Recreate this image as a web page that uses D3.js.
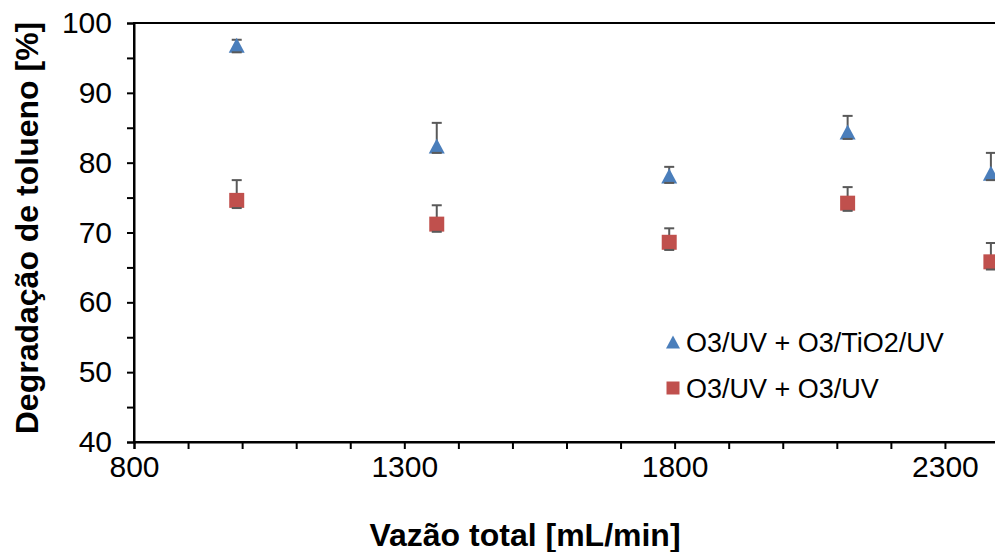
<!DOCTYPE html>
<html>
<head>
<meta charset="utf-8">
<script src="https://cdn.jsdelivr.net/npm/d3@7"></script>
<style>
  html, body { margin: 0; padding: 0; background: #fff; overflow: hidden; }
  svg { display: block; font-family: "Liberation Sans", Arial, sans-serif; }
</style>
</head>
<body>
<svg id="chart" width="995" height="552"></svg>
<script>
// Total flow rate (mL/min) for each run
const flowRates = [990, 1360, 1790, 2120, 2385];

// Toluene degradation (%) and error bar extents for each treatment
const seriesNames = ["O3/UV + O3/TiO2/UV", "O3/UV + O3/UV"];
const tio2Values = [96.8, 82.4, 78.1, 84.4, 78.5];
const tio2ErrUp = [0.8, 3.3, 1.3, 2.3, 2.9];
const tio2ErrDown = [1.0, 1.0, 1.0, 1.0, 1.0];
const uvValues = [74.6, 71.2, 68.6, 74.2, 65.8];
const uvErrUp = [2.9, 2.7, 2.0, 2.3, 2.7];
const uvErrDown = [1.1, 1.1, 1.1, 1.1, 1.1];

// Axis ticks
const xTickValues = [800, 1300, 1800, 2300];
const yTickValues = [40, 50, 60, 70, 80, 90, 100];

const svg = d3.select("#chart");
const plotLeft = 134, plotRight = 999, plotTop = 23, plotBottom = 442;

const x = d3.scaleLinear().domain([800, 2400]).range([plotLeft, plotRight]);
const y = d3.scaleLinear().domain([40, 100]).range([plotBottom, plotTop]);

// Plot frame
svg.append("rect")
  .attr("x", plotLeft).attr("y", plotTop)
  .attr("width", plotRight - plotLeft).attr("height", plotBottom - plotTop)
  .attr("fill", "none").attr("stroke", "#000").attr("stroke-width", 2);

// Y axis: ticks every 5, labels every 10
const yAxis = d3.axisLeft(y)
  .tickValues(d3.range(40, 101, 5))
  .tickSize(7)
  .tickPadding(15)
  .tickFormat(d => yTickValues.includes(d) ? d : "");
const gy = svg.append("g").attr("transform", `translate(${plotLeft},0)`).call(yAxis);

// X axis: ticks every 100, labels every 500
const xAxis = d3.axisBottom(x)
  .tickValues(d3.range(800, 2401, 100))
  .tickSize(7)
  .tickPadding(7)
  .tickFormat(d => xTickValues.includes(d) ? d : "");
const gx = svg.append("g").attr("transform", `translate(0,${plotBottom})`).call(xAxis);

[gx, gy].forEach(g => {
  g.select(".domain").attr("stroke", "#000").attr("stroke-width", 2);
  g.selectAll(".tick line").attr("stroke", "#000").attr("stroke-width", 2);
  g.selectAll(".tick text")
    .attr("fill", "#000")
    .style("font-size", "30px")
    .style("font-family", "'Liberation Sans', Arial, sans-serif");
});

// Axis titles
svg.append("text")
  .attr("x", 525).attr("y", 546)
  .attr("text-anchor", "middle")
  .style("font-size", "32px").style("font-weight", "bold")
  .text("Vazão total [mL/min]");

svg.append("text")
  .attr("transform", "translate(38,228) rotate(-90)")
  .attr("text-anchor", "middle")
  .style("font-size", "32px").style("font-weight", "bold")
  .text("Degradação de tolueno [%]");

// Marker shapes, centred on their bounding box
const triPath = (w, h) => `M0,${-h / 2}L${w / 2},${h / 2}L${-w / 2},${h / 2}Z`;
const sqPath = s => `M${-s / 2},${-s / 2}h${s}v${s}h${-s}Z`;

const series = [
  { name: seriesNames[0], color: "#4A7EBB", marker: triPath(16, 15), legendMarker: triPath(14, 13),
    pts: flowRates.map((f, i) => ({ f, v: tio2Values[i], up: tio2ErrUp[i], dn: tio2ErrDown[i] })) },
  { name: seriesNames[1], color: "#C0504D", marker: sqPath(15), legendMarker: sqPath(13),
    pts: flowRates.map((f, i) => ({ f, v: uvValues[i], up: uvErrUp[i], dn: uvErrDown[i] })) }
];

const plot = svg.append("g");
const capHalf = 5;

series.forEach(s => {
  const g = plot.append("g");
  // Error bars
  const eb = g.selectAll(".err").data(s.pts).enter().append("g")
    .attr("stroke", "#595959").attr("stroke-width", 2);
  eb.append("line")
    .attr("x1", d => x(d.f)).attr("x2", d => x(d.f))
    .attr("y1", d => y(d.v + d.up)).attr("y2", d => y(d.v - d.dn));
  eb.append("line")
    .attr("x1", d => x(d.f) - capHalf).attr("x2", d => x(d.f) + capHalf)
    .attr("y1", d => y(d.v + d.up)).attr("y2", d => y(d.v + d.up));
  // Markers
  g.selectAll(".mk").data(s.pts).enter().append("path")
    .attr("d", s.marker)
    .attr("transform", d => `translate(${x(d.f)},${y(d.v)})`)
    .attr("fill", s.color);
});

// Lower caps sit at the marker's lower edge, drawn above the markers
series.forEach(s => {
  plot.append("g").selectAll("line").data(s.pts).enter().append("line")
    .attr("stroke", "#595959").attr("stroke-width", 2)
    .attr("x1", d => x(d.f) - capHalf).attr("x2", d => x(d.f) + capHalf)
    .attr("y1", d => y(d.v - d.dn)).attr("y2", d => y(d.v - d.dn));
});

// Legend
const legend = svg.append("g");
series.forEach((s, i) => {
  const ly = 342 + i * 46;
  legend.append("path")
    .attr("d", s.legendMarker)
    .attr("transform", `translate(673,${ly})`)
    .attr("fill", s.color);
  legend.append("text")
    .attr("x", 686).attr("y", ly + 10)
    .style("font-size", "27px")
    .attr("fill", "#000")
    .text(s.name);
});
</script>
</body>
</html>
